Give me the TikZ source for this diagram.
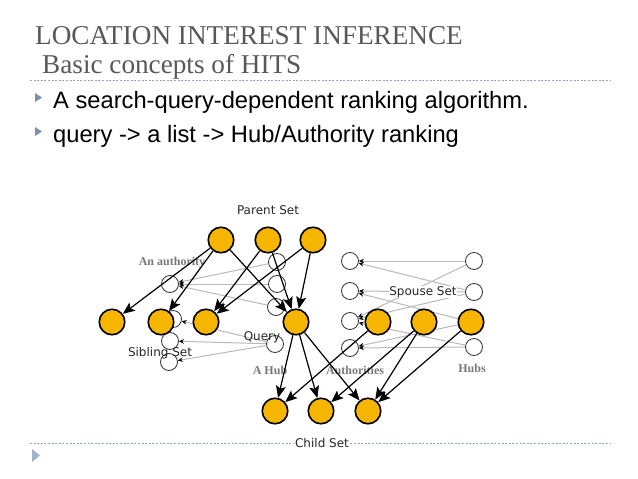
\documentclass[tikz,border=0pt]{standalone}
\usepackage{fontspec}
\setmainfont{Liberation Serif}
\newfontfamily\arialf{Liberation Sans}
\newfontfamily\dejaf{DejaVu Sans}
\usetikzlibrary{arrows.meta}
\definecolor{orangec}{RGB}{246,182,0}
\definecolor{titlec}{RGB}{88,88,88}
\definecolor{dotc}{RGB}{150,165,185}
\definecolor{bulc}{RGB}{125,143,170}
\definecolor{bul2c}{RGB}{160,180,205}
\definecolor{glc}{RGB}{185,185,185}
\definecolor{lblc}{RGB}{120,120,120}
\pgfdeclarelayer{bg}
\pgfdeclarelayer{fg}
\pgfsetlayers{bg,main,fg}
\tikzset{
  onode/.style={circle,draw=black,line width=1.6pt,fill=orangec,minimum size=25.5pt,inner sep=0pt},
  cnode/.style={circle,draw=black!80,line width=0.8pt,fill=white,minimum size=17pt,inner sep=0pt},
  garrow/.style={draw=glc,line width=1pt,-{Stealth[black,length=5pt,width=4.5pt]}},
  barrow/.style={draw=black,line width=1.2pt,-{Stealth[length=12pt,width=10pt,inset=2.5pt]}},
  sanslbl/.style={font=\dejaf\fontsize{12}{14}\selectfont,text=black!85,inner sep=0.5pt},
  serlbl/.style={font=\bfseries\fontsize{12}{14}\selectfont,text=lblc,inner sep=0.5pt},
  dotline/.style={draw=dotc,line width=0.7pt,dash pattern=on 2pt off 1.6pt}
}
\begin{document}
\begin{tikzpicture}[x=1pt,y=-1pt]
\useasboundingbox (0,0) rectangle (638,479);
% title
\node[anchor=base west,inner sep=0pt,font=\fontsize{27.2}{32}\selectfont,text=titlec] (t1) at (35,45) {LOCATION INTEREST INFERENCE};
\node[anchor=base west,inner sep=0pt,font=\fontsize{27.2}{32}\selectfont,text=titlec] (t2) at (42,73) {Basic concepts of HITS};
\draw[dotline] (30,80) -- (610,80);
% bullets
\fill[bulc] (35,93) -- (42,97.5) -- (35,102) -- cycle;
\fill[bulc] (35,127) -- (42,131.5) -- (35,136) -- cycle;
\node[anchor=base west,inner sep=0pt,font=\arialf\fontsize{23.7}{28}\selectfont] (b1) at (53,108) {A search-query-dependent ranking algorithm.};
\node[anchor=base west,inner sep=0pt,font=\arialf\fontsize{23.7}{28}\selectfont] (b2) at (53,142) {query -> a list -> Hub/Authority ranking};
% bottom
\draw[dotline] (30,443) -- (610,443);
\fill[bul2c] (32,449) -- (40,455.5) -- (32,462) -- cycle;
\node[sanslbl,fill=white,inner sep=1.5pt] (childlbl) at (322,443) {Child Set};
% open circles
\node[cnode] (A) at (170,284) {};
\node[cnode] (C1) at (277,262) {};
\node[cnode] (C2) at (277,284) {};
\node[cnode] (C3) at (276,307) {};
\node[cnode] (S1) at (173,319) {};
\node[cnode] (S2) at (170,341) {};
\node[cnode] (S3) at (169,362) {};
\node[cnode] (Qc) at (275,344) {};
\node[cnode] (L1) at (350,261) {};
\node[cnode] (L2) at (350,291) {};
\node[cnode] (L3) at (350,321) {};
\node[cnode] (L4) at (350,348) {};
\node[cnode] (R1) at (474,261) {};
\node[cnode] (R2) at (474,292) {};
\node[cnode] (R4) at (474,347) {};
% orange nodes
\begin{pgfonlayer}{fg}
\node[onode] (P1) at (221,240) {};
\node[onode] (P2) at (268,240) {};
\node[onode] (P3) at (313,240) {};
\node[onode] (B1) at (112,322) {};
\node[onode] (B2) at (161,322) {};
\node[onode] (B3) at (206,322) {};
\node[onode] (Qn) at (296,322) {};
\node[onode] (O1) at (378,322) {};
\node[onode] (O2) at (424,322) {};
\node[onode] (O3) at (471,322) {};
\node[onode] (K1) at (275,411) {};
\node[onode] (K2) at (321,411) {};
\node[onode] (K3) at (368,411) {};
\end{pgfonlayer}
% labels
\node[sanslbl] (lp) at (268,210) {Parent Set};
\node[sanslbl] (ls) at (160,353) {Sibling Set};
\node[sanslbl] (lq) at (262,337) {Query};
\node[sanslbl,fill=white] (lsp) at (423,292) {Spouse Set};
\node[serlbl] (la) at (172,263) {An authority};
\node[serlbl] (lh) at (270,370) {A Hub};
\node[serlbl] (lau) at (355,370) {Authorities};
\node[serlbl] (lhs) at (472,368) {Hubs};
% gray links
\begin{pgfonlayer}{bg}
\draw[garrow] (C1) -- (A);
\draw[garrow] (C2) -- (A);
\draw[garrow] (C3) -- (A);
\draw[garrow] (Qc) -- (S1);
\draw[garrow] (Qc) -- (S2);
\draw[garrow] (Qc) -- (S3);
\draw[garrow] (R1) -- (L1);
\draw[garrow] (R2) -- (L1);
\draw[garrow] (R1) -- (L3);
\draw[garrow] (R2) -- (L2);
\draw[garrow] (O3) -- (L2);
\draw[garrow] (R2) -- (L3);
\draw[garrow] (O3) -- (L4);
\draw[garrow] (R4) -- (L4);
\draw[garrow] (R4) -- (L3);
\end{pgfonlayer}
% black links
\draw[barrow] (P1) -- (B1);
\draw[barrow] (P1) -- (B2);
\draw[barrow] (P1) -- (Qn);
\draw[barrow] (P2) -- (B3);
\draw[barrow] (P2) -- (Qn);
\draw[barrow] (P3) -- (B3);
\draw[barrow] (P3) -- (Qn);
\draw[barrow] (Qn) -- (K1);
\draw[barrow] (Qn) -- (K2);
\draw[barrow] (Qn) -- (K3);
\draw[barrow] (O1) -- (K1);
\draw[barrow] (O2) -- (K2);
\draw[barrow] (O2) -- (K3);
\draw[barrow] (O3) -- (K3);
\end{tikzpicture}
\end{document}
